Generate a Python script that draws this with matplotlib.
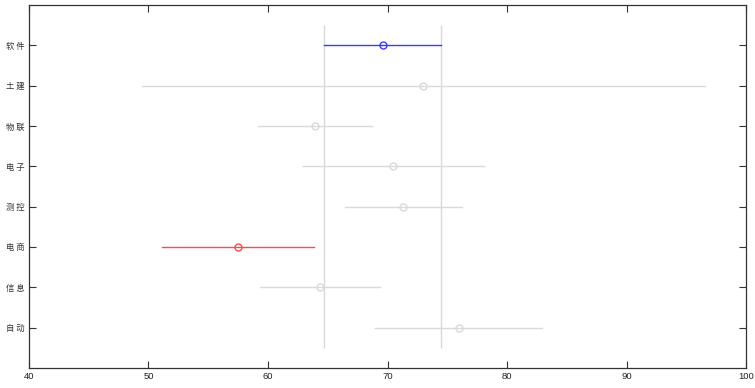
import matplotlib
matplotlib.use("Agg")
import matplotlib.pyplot as plt

plt.rcParams['font.family'] = ['Noto Sans CJK SC', 'DejaVu Sans']

categories = ['软件', '土建', '物联', '电子', '测控', '电商', '信息', '自动']
means = [69.62, 72.96, 63.96, 70.46, 71.30, 57.46, 64.32, 75.96]
lower = [64.69, 49.43, 59.19, 62.95, 66.44, 51.13, 59.36, 68.93]
upper = [74.48, 96.54, 68.73, 78.05, 76.20, 63.82, 69.35, 82.96]
colors = ['#3a3aff', '#d9d9d9', '#d9d9d9', '#d9d9d9', '#d9d9d9', '#ff4a4a', '#d9d9d9', '#d9d9d9']
xticks = [40, 50, 60, 70, 80, 90, 100]

fig = plt.figure(figsize=(7.55, 3.88), dpi=100)
ax = fig.add_axes([29/755, 20/388, 717/755, 363/388])

n = len(categories)
ys = list(range(1, n + 1))

# reference vertical lines at the selected group's interval
ax.vlines([lower[0], upper[0]], 0.5, n + 0.5, colors='#d9d9d9', linewidth=1, zorder=1)

for y, m, lo, hi, c in zip(ys, means, lower, upper, colors):
    z = 2 if c == '#d9d9d9' else 3
    ax.plot([lo, hi], [y, y], color=c, linewidth=1, zorder=z)
    ax.plot([m], [y], marker='o', markersize=5, markerfacecolor='none',
            markeredgecolor=c, markeredgewidth=1, linestyle='none', zorder=z)

ax.set_xlim(40, 100)
ax.set_ylim(n + 1, 0)
ax.set_xticks(xticks)
ax.set_xticklabels([str(t) for t in xticks], fontsize=6.8,
                   family=['Liberation Sans', 'DejaVu Sans'], color='#222222')
ax.set_yticks(ys)
ax.set_yticklabels([' '.join(c) for c in categories], fontsize=6, color='#333333')
ax.tick_params(direction='in', top=True, right=True, length=5, width=0.8, color='#333333', pad=3)
for s in ax.spines.values():
    s.set_color('#333333')
    s.set_linewidth(0.9)

fig.savefig('out.png', dpi=100)
